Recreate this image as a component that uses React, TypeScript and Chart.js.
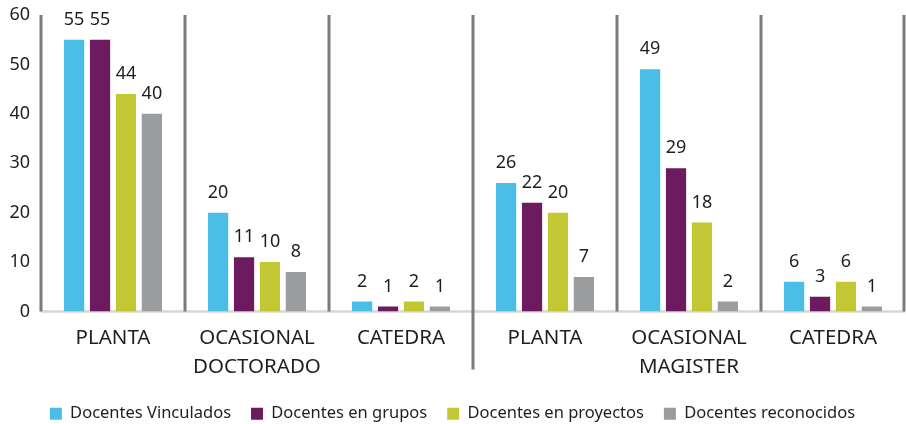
import React, { useEffect, useRef } from "react";
import { Chart, registerables } from "chart.js";

Chart.register(...registerables);

const categories: string[][] = [
  ["PLANTA"],
  ["OCASIONAL", "DOCTORADO"],
  ["CATEDRA"],
  ["PLANTA"],
  ["OCASIONAL", "MAGISTER"],
  ["CATEDRA"],
];
const seriesNames = [
  "Docentes Vinculados",
  "Docentes en grupos",
  "Docentes en proyectos",
  "Docentes reconocidos",
];
const vinculados = [55, 20, 2, 26, 49, 6];
const grupos = [55, 11, 1, 22, 29, 3];
const proyectos = [44, 10, 2, 20, 18, 6];
const reconocidos = [40, 8, 1, 7, 2, 1];
const yMin = 0;
const yMax = 60;
const yStep = 10;

const colors = ["#4BBEE8", "#6B1B5E", "#C2C834", "#9A9C9D"];
const FONT = "'Noto Sans', sans-serif";
const TEXT = "#1f1f1f";

const separatorPlugin = {
  id: "separators",
  beforeDatasetsDraw(chart: any) {
    const { ctx, chartArea } = chart;
    ctx.save();
    ctx.strokeStyle = "#d6d6d6";
    ctx.lineWidth = 2.5;
    ctx.beginPath();
    ctx.moveTo(chartArea.left, chartArea.bottom);
    ctx.lineTo(chartArea.right, chartArea.bottom);
    ctx.stroke();
    ctx.restore();
  },
  afterDatasetsDraw(chart: any) {
    const { ctx, chartArea, scales } = chart;
    const x = scales.x;
    const n = categories.length;
    const bounds: number[] = [chartArea.left];
    for (let i = 1; i < n; i++) {
      bounds.push((x.getPixelForValue(i - 1) + x.getPixelForValue(i)) / 2);
    }
    bounds.push(chartArea.right - 1);
    ctx.save();
    ctx.strokeStyle = "#7b7b7b";
    ctx.lineWidth = 3;
    bounds.forEach((bx, i) => {
      ctx.beginPath();
      ctx.moveTo(bx, chartArea.top);
      ctx.lineTo(bx, i === 3 ? chartArea.bottom + 58 : chartArea.bottom);
      ctx.stroke();
    });
    ctx.restore();

    // value labels
    ctx.save();
    ctx.fillStyle = TEXT;
    ctx.font = `18px ${FONT}`;
    ctx.textAlign = "center";
    ctx.textBaseline = "middle";
    chart.data.datasets.forEach((ds: any, di: number) => {
      const meta = chart.getDatasetMeta(di);
      meta.data.forEach((el: any, i: number) => {
        ctx.fillText(String(ds.data[i]), el.x, el.y - 20);
      });
    });
    ctx.restore();
  },
};

export default function App() {
  const ref = useRef<HTMLCanvasElement | null>(null);
  useEffect(() => {
    if (!ref.current) return;
    const data = [vinculados, grupos, proyectos, reconocidos];
    const chart = new Chart(ref.current, {
      type: "bar",
      data: {
        labels: categories,
        datasets: seriesNames.map((name, i) => ({
          label: name,
          data: data[i],
          backgroundColor: colors[i],
          borderWidth: 0,
          categoryPercentage: 0.72,
          barPercentage: 0.78,
        })),
      },
      options: {
        animation: false,
        responsive: false,
        devicePixelRatio: 1,
        layout: { padding: { top: 15, right: 1, bottom: -8, left: 0 } },
        plugins: {
          legend: {
            position: "bottom",
            labels: {
              boxWidth: 12,
              boxHeight: 12,
              padding: 20,
              color: TEXT,
              font: { family: FONT, size: 16.5 },
            },
          },
          tooltip: { enabled: false },
        },
        scales: {
          x: {
            grid: { display: false, drawTicks: false },
            border: { display: false },
            ticks: {
              color: TEXT,
              padding: 12,
              font: { family: FONT, size: 20.5, lineHeight: 1.41 },
              maxRotation: 0,
              autoSkip: false,
            },
            afterFit(scale: any) {
              scale.height = 74;
              scale.paddingLeft = 0;
              scale.paddingRight = 0;
            },
          },
          y: {
            min: yMin,
            max: yMax,
            grid: { display: false, drawTicks: false },
            border: { display: false },
            ticks: {
              stepSize: yStep,
              color: TEXT,
              padding: 11,
              font: { family: FONT, size: 18 },
            },
            afterFit(scale: any) {
              scale.width = 41;
              scale.paddingTop = 0;
              scale.paddingBottom = 0;
            },
          },
        },
      },
      plugins: [separatorPlugin],
    } as any);
    return () => chart.destroy();
  }, []);
  return (
    <div style={{ position: "absolute", left: 0, top: 0, width: 906, height: 424, background: "#fff" }}>
      <canvas ref={ref} width={906} height={424} />
    </div>
  );
}
